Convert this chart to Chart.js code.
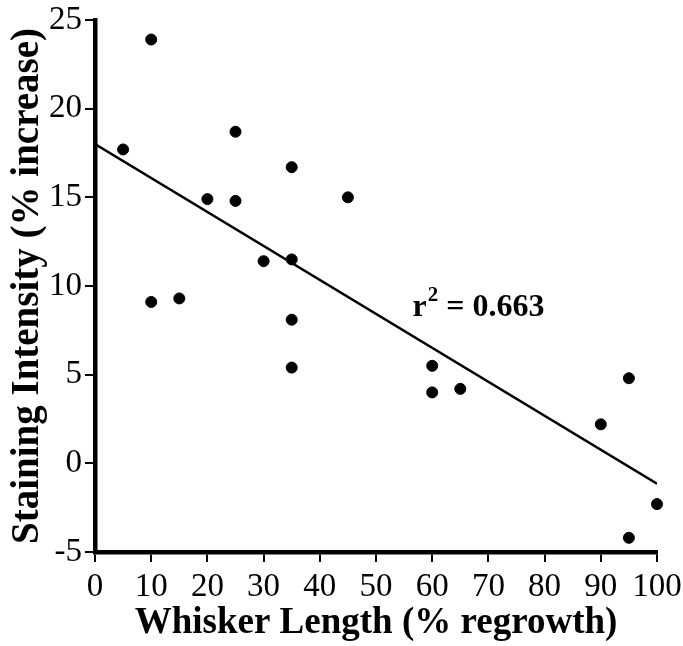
<!DOCTYPE html>
<html>
<head>
<meta charset="utf-8">
<script src="https://cdn.jsdelivr.net/npm/chart.js@4.4.1/dist/chart.umd.min.js"></script>
<style>
  html, body { margin: 0; padding: 0; background: #fff; }
  #wrap { width: 683px; height: 646px; }
</style>
</head>
<body>
<div id="wrap"><canvas id="scatter" width="683" height="646"></canvas></div>
<script>
// values
const whiskerLength = [5, 10, 10, 15, 20, 25, 25, 30, 35, 35, 35, 35, 45, 60, 60, 65, 90, 95, 95, 100];
const stainingIntensity = [17.7, 23.9, 9.1, 9.3, 14.9, 18.7, 14.8, 11.4, 16.7, 11.5, 8.1, 5.4, 15.0, 5.5, 4.0, 4.2, 2.2, 4.8, -4.2, -2.3];
const fitX = [0, 100];
const fitY = [18.0, -1.15];
const xTicks = [0, 10, 20, 30, 40, 50, 60, 70, 80, 90, 100];
const yTicks = [-5, 0, 5, 10, 15, 20, 25];
const rLabel = { x: 56.5, y: 8.3, text: '0.663' };

const serif = "'Liberation Serif', 'Times New Roman', serif";

const points = whiskerLength.map((x, i) => ({ x: x, y: stainingIntensity[i] }));
const fitLine = fitX.map((x, i) => ({ x: x, y: fitY[i] }));

// r^2 label with superscript
const rSquared = {
  id: 'rSquared',
  afterDatasetsDraw(chart) {
    const ctx = chart.ctx;
    const px = chart.scales.x.getPixelForValue(rLabel.x);
    const py = chart.scales.y.getPixelForValue(rLabel.y);
    ctx.save();
    ctx.fillStyle = '#000';
    ctx.textBaseline = 'alphabetic';
    ctx.textAlign = 'left';
    ctx.font = "bold 32px " + serif;
    ctx.fillText('r', px, py);
    let w = ctx.measureText('r').width;
    ctx.font = "bold 21px " + serif;
    ctx.fillText('2', px + w + 1, py - 15);
    w += ctx.measureText('2').width + 1;
    ctx.font = "bold 32px " + serif;
    ctx.fillText(' = ' + rLabel.text, px + w, py);
    ctx.restore();
  }
};

new Chart(document.getElementById('scatter'), {
  type: 'scatter',
  data: {
    datasets: [{
      label: 'data',
      data: points,
      backgroundColor: '#000',
      borderColor: '#000',
      pointRadius: 5.5,
      pointHoverRadius: 5.5,
      clip: false
    }, {
      label: 'fit',
      type: 'line',
      data: fitLine,
      borderColor: '#000',
      borderWidth: 2.5,
      pointRadius: 0,
      fill: false
    }]
  },
  options: {
    responsive: false,
    animation: false,
    events: [],
    layout: { padding: { top: 20, right: 26, bottom: 0, left: 0 } },
    plugins: { legend: { display: false }, tooltip: { enabled: false } },
    scales: {
      x: {
        type: 'linear',
        min: 0, max: 100,
        afterBuildTicks: s => { s.ticks = xTicks.map(v => ({ value: v })); },
        afterFit: s => { s.height = 94; s.paddingLeft = 0; s.paddingRight = 0; },
        border: { display: true, color: '#000', width: 4.5 },
        grid: { display: true, drawOnChartArea: false, drawTicks: true, tickLength: 10, lineWidth: 2, color: '#000' },
        ticks: { color: '#000', padding: 6, maxRotation: 0, font: { family: serif, size: 33 } },
        title: { display: true, text: 'Whisker Length (% regrowth)', color: '#000', padding: { top: 0, bottom: 0 }, font: { family: serif, size: 37, weight: 'bold' } }
      },
      y: {
        type: 'linear',
        min: -5, max: 25,
        afterBuildTicks: s => { s.ticks = yTicks.map(v => ({ value: v })); },
        afterFit: s => { s.width = 95; s.paddingTop = 0; s.paddingBottom = 0; },
        border: { display: true, color: '#000', width: 4.5 },
        grid: { display: true, drawOnChartArea: false, drawTicks: true, tickLength: 10, lineWidth: 2, color: '#000' },
        ticks: { color: '#000', padding: 3, font: { family: serif, size: 33 } },
        title: { display: true, text: 'Staining Intensity (% increase)', color: '#000', padding: { top: 5, bottom: 0 }, font: { family: serif, size: 39, weight: 'bold' } }
      }
    }
  },
  plugins: [rSquared]
});
</script>
</body>
</html>
